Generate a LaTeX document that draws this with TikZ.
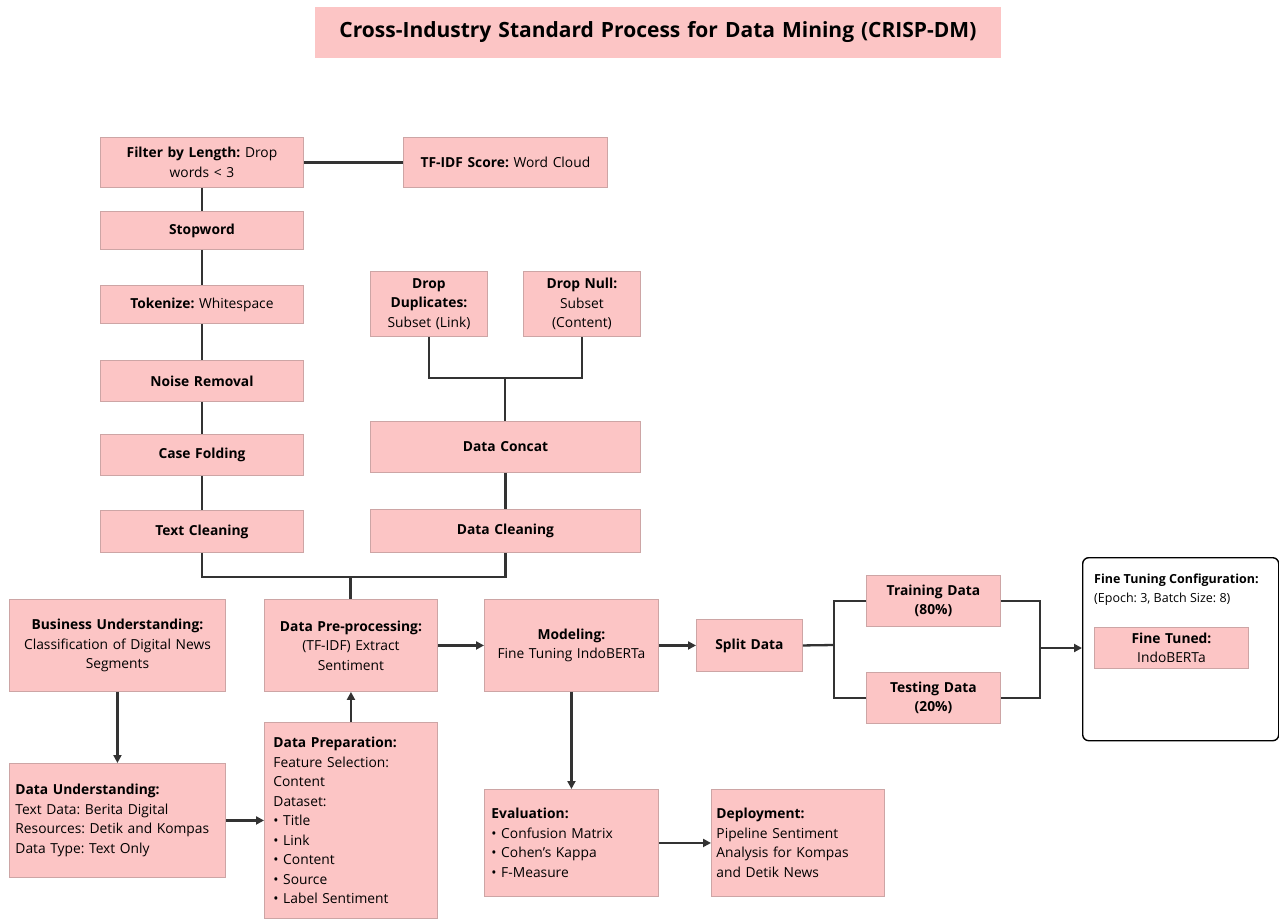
\documentclass[tikz,border=0pt]{standalone}
\usepackage{fontspec}
\setmainfont{Open Sans}
\usetikzlibrary{arrows.meta}
\definecolor{boxfill}{RGB}{252,197,197}
\definecolor{boxline}{RGB}{205,165,165}
\definecolor{lin}{RGB}{51,51,51}
\tikzset{
  box/.style={draw=boxline, fill=boxfill, line width=0.9pt, inner xsep=4pt, inner ysep=4pt, align=center,
    font=\fontsize{13.8}{19.5}\selectfont},
  lbox/.style={align=left},
  conn/.style={draw=lin, line width=2.3pt},
  arr/.style={conn, -{Triangle[length=8pt,width=8pt]}},
}
\newcommand{\pbox}[7][]{%
  \node[box, anchor=north west, minimum width={(#5-#3)*1pt}, minimum height={(#6-#4)*1pt},
        text width={(#5-#3)*1pt-8pt}, #1] (#2) at (#3,#4) {#7};}
\begin{document}
\frenchspacing
\begin{tikzpicture}[x=1pt,y=-1pt]
\useasboundingbox[fill=white] (0,0) rectangle (1279,918);
% title
\pbox[font=\fontsize{21}{24}\selectfont\bfseries, draw=boxfill]{title}{315}{7}{1000}{57}{Cross-Industry Standard Process for Data Mining (CRISP-DM)}
% left chain
\pbox{filt}{100}{137}{303}{187}{\textbf{Filter by Length:} Drop\\words < 3}
\pbox{tfidf}{403}{137}{607}{187}{\textbf{TF-IDF Score:} Word Cloud}
\pbox{stop}{100}{211}{303}{249}{\textbf{Stopword}}
\pbox{tok}{100}{285}{303}{323}{\textbf{Tokenize:} Whitespace}
\pbox{noise}{100}{360}{303}{401}{\textbf{Noise Removal}}
\pbox{case}{100}{434}{303}{475}{\textbf{Case Folding}}
\pbox{tclean}{100}{510}{303}{552}{\textbf{Text Cleaning}}
% middle chain
\pbox{dup}{370}{271}{487}{336}{\textbf{Drop}\\\textbf{Duplicates:}\\Subset (Link)}
\pbox{null}{523}{271}{640}{336}{\textbf{Drop Null:}\\Subset\\(Content)}
\pbox{concat}{370}{421}{640}{472}{\textbf{Data Concat}}
\pbox{dclean}{370}{509}{640}{552}{\textbf{Data Cleaning}}
% main row
\pbox{bus}{9}{599}{225}{691}{\textbf{Business Understanding:}\\Classification of Digital News\\Segments}
\pbox{pre}{264}{599}{437}{691}{\textbf{Data Pre-processing:}\\(TF-IDF) Extract\\Sentiment}
\pbox{model}{484}{599}{658}{691}{\textbf{Modeling:}\\Fine Tuning IndoBERTa}
\pbox{split}{696}{619}{802}{671}{\textbf{Split Data}}
\pbox{train}{866}{575}{1000}{626}{\textbf{Training Data}\\\textbf{(80\%)}}
\pbox{test}{866}{672}{1000}{723}{\textbf{Testing Data}\\\textbf{(20\%)}}
% config
\node[draw=black, fill=white, line width=1.4pt, rounded corners=6pt, anchor=north west,
      minimum width=196pt, minimum height=183pt] (cfg) at (1082,557) {};
\node[anchor=north west, inner sep=0pt, align=left, font=\fontsize{12.5}{18.5}\selectfont] (cfgtxt) at (1094,574)
  {\textbf{Fine Tuning Configuration:}\\(Epoch: 3, Batch Size: 8)};
\pbox{tuned}{1094}{627}{1248}{668}{\textbf{Fine Tuned:}\\IndoBERTa}
% bottom row
\pbox[lbox, inner xsep=6pt, text width=204pt]{du}{9}{763}{225}{877}{\textbf{Data Understanding:}\\Text Data: Berita Digital\\Resources: Detik and Kompas\\Data Type: Text Only}
\pbox[lbox, inner xsep=9pt, text width=155pt]{dprep}{264}{722}{437}{918}{\textbf{Data Preparation:}\\Feature Selection:\\Content\\Dataset:\\• Title\\• Link\\• Content\\• Source\\• Label Sentiment}
\pbox[lbox, inner xsep=7pt, text width=160pt]{eval}{484}{789}{658}{896}{\textbf{Evaluation:}\\• Confusion Matrix\\• Cohen’s Kappa\\• F-Measure}
\pbox[lbox, inner xsep=5pt, text width=163pt]{deploy}{711}{789}{884}{896}{\textbf{Deployment:}\\Pipeline Sentiment\\Analysis for Kompas\\and Detik News}
% connectors: top
\draw[conn] (filt) -- (tfidf);
\draw[conn] (filt) -- (stop);
\draw[conn] (stop) -- (tok);
\draw[conn] (tok) -- (noise);
\draw[conn] (noise) -- (case);
\draw[conn] (case) -- (tclean);
\coordinate (j2) at (505,378);
\draw[conn] (dup.south) |- (j2) -| (null.south);
\draw[conn] (j2) -- (j2 |- concat.north);
\draw[conn] (concat) -- (dclean);
\coordinate (j1) at (350.5,577);
\draw[conn] (tclean.south) -- (tclean.south |- j1) -- (dclean.south |- j1) -- (dclean.south);
\draw[conn] (j1) -- (j1 |- pre.north);
% main arrows
\draw[arr] (bus) -- (du);
\draw[arr] (du.east) -- (du.east -| dprep.west);
\draw[arr] (dprep) -- (pre);
\draw[arr] (pre) -- (model);
\draw[arr] (model.east) -- (model.east -| split.west);
\draw[arr] (model) -- (eval);
\draw[arr] (eval) -- (deploy);
% split
\coordinate (j3) at (834,645);
\draw[conn] (split.east) -- (j3);
\draw[conn] (train.west) -- (train.west -| j3) -- (test.west -| j3) -- (test.west);
\coordinate (j4) at (1040,648);
\draw[conn] (train.east) -- (train.east -| j4) -- (test.east -| j4) -- (test.east);
\draw[arr] (j4) -- (j4 -| cfg.west);
\end{tikzpicture}
\end{document}
